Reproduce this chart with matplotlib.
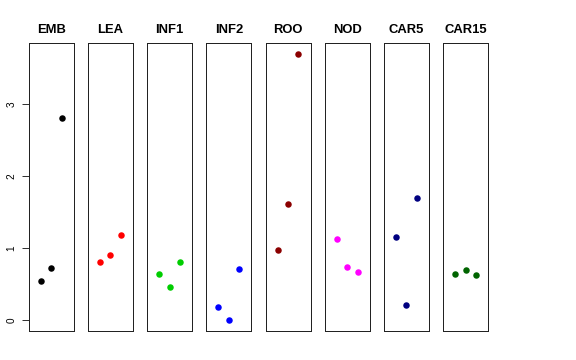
import numpy as np
import matplotlib.pyplot as plt

plt.rcParams['font.family'] = ['Liberation Sans', 'DejaVu Sans']

# tissues and their three values each
tissues = ['EMB', 'LEA', 'INF1', 'INF2', 'ROO', 'NOD', 'CAR5', 'CAR15']
colors = ['black', 'red', '#00CD00', 'blue', '#8B0000', 'magenta', '#000080', '#006400']
emb = [0.55, 0.73, 2.81]
lea = [0.81, 0.90, 1.19]
inf1 = [0.64, 0.46, 0.81]
inf2 = [0.19, 0.00, 0.71]
roo = [0.97, 1.62, 3.70]
nod = [1.125, 0.745, 0.667]
car5 = [1.157, 0.21, 1.70]
car15 = [0.647, 0.70, 0.633]
values = [emb, lea, inf1, inf2, roo, nod, car5, car15]
reps = [1, 2, 3]
yticks = [0, 1, 2, 3]

allv = np.concatenate(values)
r = allv.max() - allv.min()
ylim = (allv.min() - 0.04 * r, allv.max() + 0.04 * r)

W, H = 576, 360
fig = plt.figure(figsize=(W / 72, H / 72), dpi=72)

lefts = [28.7, 87.9, 147.1, 206.3, 265.5, 324.7, 383.9, 443.1]
for i, (name, col, vals) in enumerate(zip(tissues, colors, values)):
    ax = fig.add_axes([lefts[i] / W, 29 / H, 45 / W, 288 / H])
    ax.scatter(reps, vals, s=42, color=col, zorder=3, linewidths=0)
    ax.set_xlim(-0.16, 4.16)
    ax.set_ylim(*ylim)
    ax.set_xticks([])
    for sp in ax.spines.values():
        sp.set_linewidth(1)
        sp.set_color('#222222')
    ax.set_title(name, fontsize=13, fontweight='bold', pad=10)
    if i == 0:
        ax.set_yticks(yticks)
        ax.tick_params(axis='y', length=7, width=0.8, pad=5, labelsize=10)
        for lbl in ax.get_yticklabels():
            lbl.set_rotation(90)
            lbl.set_va('center')
    else:
        ax.set_yticks([])

fig.savefig('out.png', dpi=72)
